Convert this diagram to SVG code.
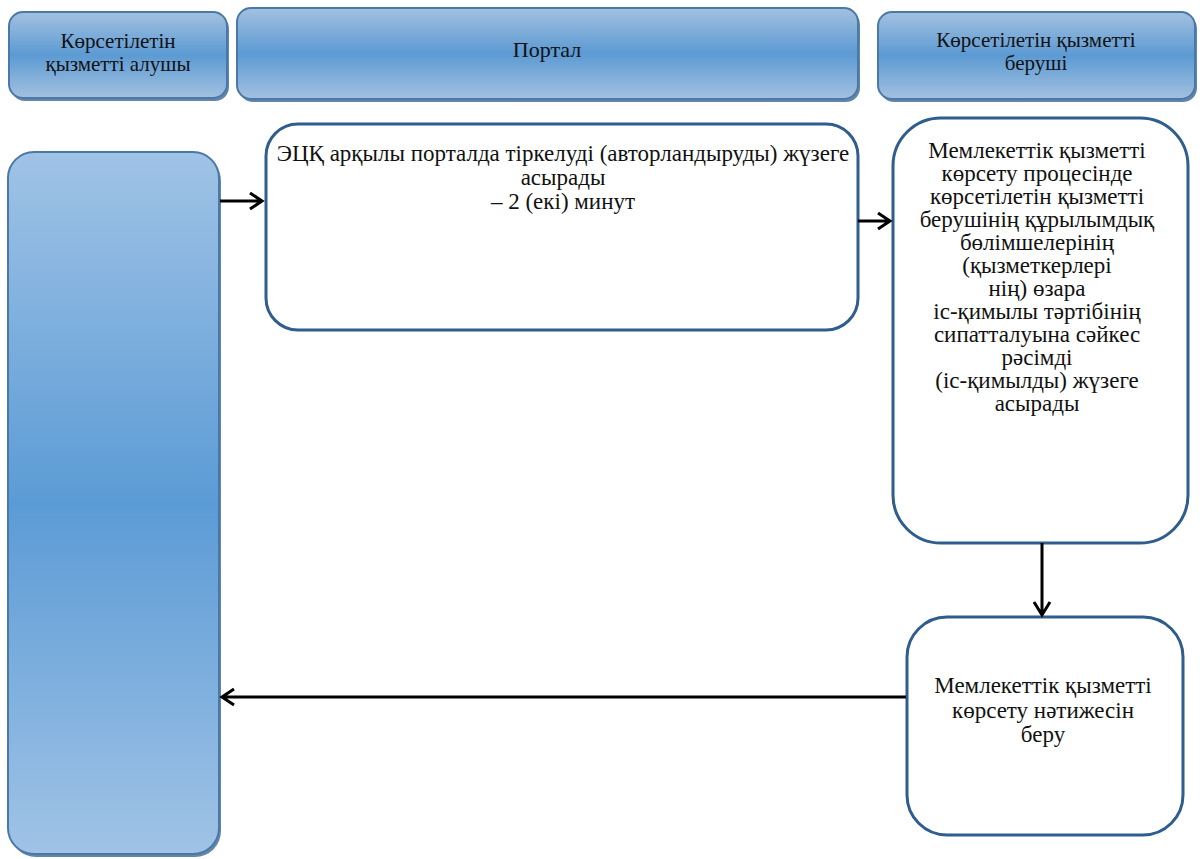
<svg xmlns="http://www.w3.org/2000/svg" width="1200" height="859" viewBox="0 0 1200 859">
<defs>
<linearGradient id="hg" x1="0" y1="0" x2="0" y2="1">
<stop offset="0" stop-color="#a3c1e0"/>
<stop offset="0.5" stop-color="#5c9ad3"/>
<stop offset="1" stop-color="#a3c1e0"/>
</linearGradient>
<linearGradient id="lg" x1="0" y1="0" x2="0" y2="1">
<stop offset="0" stop-color="#a0c3e6"/>
<stop offset="0.5" stop-color="#5b9bd5"/>
<stop offset="1" stop-color="#a0c3e6"/>
</linearGradient>
</defs>
<style>
.hdr{fill:url(#hg);stroke:#4a78a8;stroke-width:2}
.shd{fill:#3e6790;opacity:0.8}
.box{fill:#fff;stroke:#2f5d8e;stroke-width:3}
.c{stroke:#000;stroke-width:3;fill:none}
</style>
<rect width="1200" height="859" fill="#fff"/>
<g id="h1">
<rect class="shd" x="11" y="15" width="218" height="86" rx="14"/>
<rect class="hdr" x="9" y="12" width="218" height="86" rx="14"/>
<text x="118" y="48" font-family="Liberation Serif, Times New Roman, serif" font-size="21" fill="#111" text-anchor="middle">Көрсетілетін</text>
<text x="118" y="71" font-family="Liberation Serif, Times New Roman, serif" font-size="21" fill="#111" text-anchor="middle">қызметті  алушы</text>
</g>
<g id="h2">
<rect class="shd" x="239" y="11" width="621" height="91" rx="14"/>
<rect class="hdr" x="237" y="8" width="621" height="91" rx="14"/>
<text x="547" y="57" font-family="Liberation Serif, Times New Roman, serif" font-size="22" fill="#111" text-anchor="middle">Портал</text>
</g>
<g id="h3">
<rect class="shd" x="880" y="15" width="317" height="87" rx="14"/>
<rect class="hdr" x="878" y="12" width="317" height="87" rx="14"/>
<text x="1036" y="47" font-family="Liberation Serif, Times New Roman, serif" font-size="21" fill="#111" text-anchor="middle">Көрсетілетін қызметті</text>
<text x="1036" y="70" font-family="Liberation Serif, Times New Roman, serif" font-size="21" fill="#111" text-anchor="middle">беруші</text>
</g>
<g id="recipient">
<rect class="shd" x="10" y="155" width="211" height="702" rx="26"/>
<rect x="8" y="152" width="211" height="702" rx="26" fill="url(#lg)" stroke="#4a78a8" stroke-width="2"/>
</g>
<g id="portal-step">
<rect class="box" x="266" y="124" width="592" height="206" rx="32"/>
<text x="563" y="161" font-family="Liberation Serif, Times New Roman, serif" font-size="23" fill="#111" text-anchor="middle">ЭЦҚ арқылы порталда тіркелуді (авторландыруды) жүзеге</text>
<text x="563" y="185" font-family="Liberation Serif, Times New Roman, serif" font-size="23" fill="#111" text-anchor="middle">асырады</text>
<text x="563" y="209" font-family="Liberation Serif, Times New Roman, serif" font-size="23" fill="#111" text-anchor="middle">– 2 (екі) минут</text>
</g>
<g id="provider-step">
<rect class="box" x="893" y="118" width="295" height="425" rx="48"/>
<text x="1037" y="158" font-family="Liberation Serif, Times New Roman, serif" font-size="23" fill="#111" text-anchor="middle">Мемлекеттік қызметті</text>
<text x="1037" y="181" font-family="Liberation Serif, Times New Roman, serif" font-size="23" fill="#111" text-anchor="middle">көрсету процесінде</text>
<text x="1037" y="204" font-family="Liberation Serif, Times New Roman, serif" font-size="23" fill="#111" text-anchor="middle">көрсетілетін қызметті</text>
<text x="1037" y="227" font-family="Liberation Serif, Times New Roman, serif" font-size="23" fill="#111" text-anchor="middle">берушінің құрылымдық</text>
<text x="1037" y="250" font-family="Liberation Serif, Times New Roman, serif" font-size="23" fill="#111" text-anchor="middle">бөлімшелерінің</text>
<text x="1037" y="273" font-family="Liberation Serif, Times New Roman, serif" font-size="23" fill="#111" text-anchor="middle">(қызметкерлері</text>
<text x="1037" y="296" font-family="Liberation Serif, Times New Roman, serif" font-size="23" fill="#111" text-anchor="middle">нің) өзара</text>
<text x="1037" y="319" font-family="Liberation Serif, Times New Roman, serif" font-size="23" fill="#111" text-anchor="middle">іс-қимылы тәртібінің</text>
<text x="1037" y="342" font-family="Liberation Serif, Times New Roman, serif" font-size="23" fill="#111" text-anchor="middle">сипатталуына сәйкес</text>
<text x="1037" y="365" font-family="Liberation Serif, Times New Roman, serif" font-size="23" fill="#111" text-anchor="middle">рәсімді</text>
<text x="1037" y="388" font-family="Liberation Serif, Times New Roman, serif" font-size="23" fill="#111" text-anchor="middle">(іс-қимылды) жүзеге</text>
<text x="1037" y="411" font-family="Liberation Serif, Times New Roman, serif" font-size="23" fill="#111" text-anchor="middle">асырады</text>
</g>
<g id="result">
<rect class="box" x="907" y="617" width="276" height="218" rx="40"/>
<text x="1043" y="693" font-family="Liberation Serif, Times New Roman, serif" font-size="23" fill="#111" text-anchor="middle">Мемлекеттік қызметті</text>
<text x="1043" y="718" font-family="Liberation Serif, Times New Roman, serif" font-size="23" fill="#111" text-anchor="middle">көрсету нәтижесін</text>
<text x="1043" y="742" font-family="Liberation Serif, Times New Roman, serif" font-size="23" fill="#111" text-anchor="middle">беру</text>
</g>
<g id="connectors">
<path class="c" d="M220,201 H261 M250,193 L262,201 L250,209"/>
<path class="c" d="M858,221 H889 M878,213 L890,221 L878,229"/>
<path class="c" d="M1042,543 V614 M1034,602 L1042,615 L1050,602"/>
<path class="c" d="M906,697 H223 M234,689 L222,697 L234,705"/>
</g>
</svg>
